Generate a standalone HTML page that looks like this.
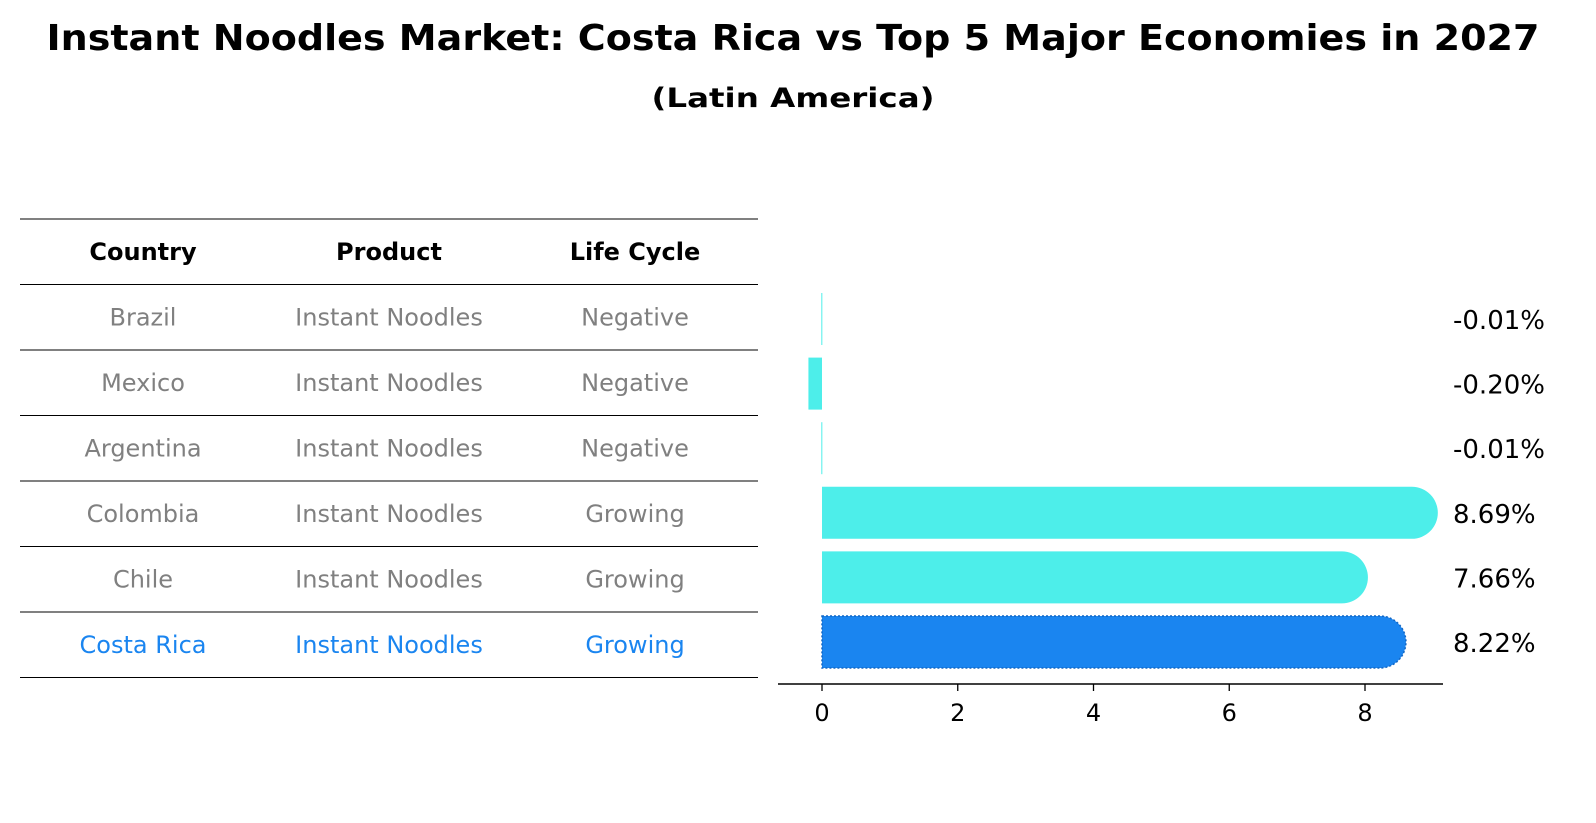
<!DOCTYPE html>
<html><head><meta charset="utf-8"><style>
body{margin:0;background:#fff;}
svg{display:block;font-family:"DejaVu Sans","Liberation Sans",sans-serif;}
</style></head><body>
<svg id="chart" width="1596" height="823" viewBox="0 0 1596 823">
<text x="793" y="50" text-anchor="middle" font-size="36" font-weight="bold" textLength="1493" lengthAdjust="spacingAndGlyphs">Instant Noodles Market: Costa Rica vs Top 5 Major Economies in 2027</text>
<text x="793" y="107" text-anchor="middle" font-size="27" font-weight="bold" textLength="283" lengthAdjust="spacingAndGlyphs">(Latin America)</text>
<g id="table"></g>
<g id="bars"></g>
</svg>
<script>
const countries=["Brazil","Mexico","Argentina","Colombia","Chile","Costa Rica"];
const products=["Instant Noodles","Instant Noodles","Instant Noodles","Instant Noodles","Instant Noodles","Instant Noodles"];
const lifeCycle=["Negative","Negative","Negative","Growing","Growing","Growing"];
const growth=[-0.01,-0.20,-0.01,8.69,7.66,8.22];
const valueLabels=["-0.01%","-0.20%","-0.01%","8.69%","7.66%","8.22%"];
const xTicks=[0,2,4,6,8];

const NS="http://www.w3.org/2000/svg";
function mk(tag,attrs,parent){const e=document.createElementNS(NS,tag);for(const k in attrs)e.setAttribute(k,attrs[k]);parent.appendChild(e);return e;}
const table=document.getElementById('table');
const bars=document.getElementById('bars');
const rowTop=219,rowH=65.5,cols=[143,389,635];
for(let i=0;i<=7;i++){
  const ln=mk('line',{x1:20,x2:758,y1:rowTop+i*rowH,y2:rowTop+i*rowH,stroke:'#000','stroke-width':1},table);
  
  
}
["Country","Product","Life Cycle"].forEach((h,j)=>{
  const t=mk('text',{x:cols[j],y:rowTop+rowH/2+8,'text-anchor':'middle','font-size':24,'font-weight':'bold'},table);
  t.textContent=h;
  
  
});
countries.forEach((c,i)=>{
  const y=rowTop+(i+1.5)*rowH+8;
  const col=c==="Costa Rica"?'#1a85f0':'#808080';
  [c,products[i],lifeCycle[i]].forEach((v,j)=>{
    const t=mk('text',{x:cols[j],y:y,'text-anchor':'middle','font-size':24,fill:col},table);
    t.textContent=v;
    
    
  });
});
const x0=822,scale=(1365-822)/8;
const X=v=>x0+v*scale;
const rowCenters=i=>319+i*64.6;
const bh=52,r=26;
growth.forEach((g,i)=>{
  const cy=rowCenters(i),yt=cy-bh/2;
  const hl=countries[i]==="Costa Rica";
  const fill=hl?'#1a85f0':'#4deeea';
  let el;
  if(g>0){
    const xe=X(g);
    const d=`M${x0},${yt} L${xe},${yt} A${r},${r} 0 0 1 ${xe},${yt+bh} L${x0},${yt+bh} Z`;
    el=mk('path',{d:d,fill:fill},bars);
    if(hl){el.setAttribute('stroke','#1266c4');el.setAttribute('stroke-dasharray','2,2');el.setAttribute('stroke-width','1.5');}
  }else{
    const xa=Math.min(X(g),x0),w=Math.max(Math.abs(X(g)-x0),1);
    el=mk('rect',{x:xa,y:yt,width:w,height:bh,fill:fill},bars);
  }
  
  
  const t=mk('text',{x:1453,y:cy+10,'font-size':26},bars);
  t.textContent=valueLabels[i];
  
  
});
const ax=mk('line',{x1:778,x2:1443,y1:684,y2:684,stroke:'#000','stroke-width':1.5},bars);


xTicks.forEach(v=>{
  const tk=mk('line',{x1:X(v),x2:X(v),y1:684,y2:691,stroke:'#000','stroke-width':1.3},bars);
  
  
  const t=mk('text',{x:X(v),y:721,'text-anchor':'middle','font-size':24},bars);
  t.textContent=v;
  
  
});
</script>
</body></html>
